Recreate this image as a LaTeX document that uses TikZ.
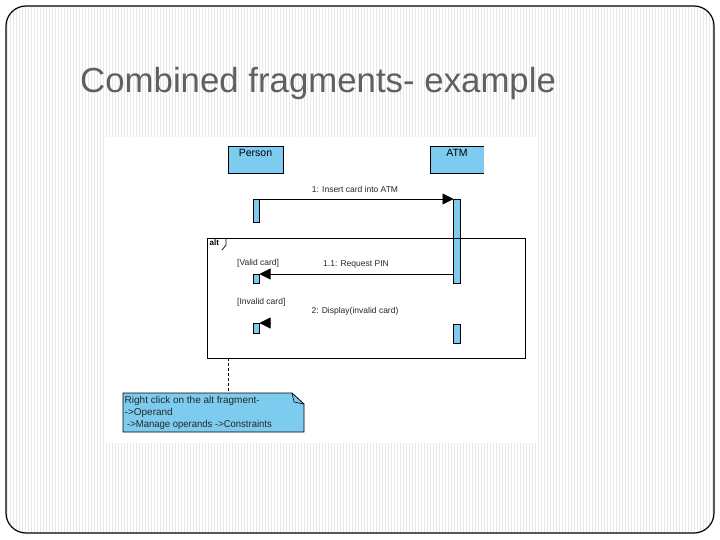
\documentclass[tikz,border=0pt]{standalone}
\usepackage{fontspec}
\setmainfont{Liberation Sans}
\usetikzlibrary{arrows.meta}
\definecolor{umlblue}{RGB}{125,204,240}
\definecolor{titlegray}{RGB}{96,96,96}
\definecolor{stripe}{RGB}{232,232,232}
\tikzset{
  lifebox/.style={draw=black, line width=0.8pt, fill=umlblue, inner sep=0pt, outer sep=0pt,
    minimum width=55pt, minimum height=27pt, anchor=north west},
  actbar/.style={draw=black, line width=0.6pt, fill=umlblue, inner sep=0pt, outer sep=0pt,
    minimum width=6.5pt, anchor=north west},
  msg/.style={draw=black, line width=0.8pt, -{Triangle[length=11pt,width=11pt]}},
  msglabel/.style={font=\fontsize{8.5}{10}\selectfont, inner sep=0pt, text=black!85},
  guard/.style={font=\fontsize{8.5}{10}\selectfont, inner sep=0pt, anchor=west, text=black!85},
  notetext/.style={font=\fontsize{10}{11}\selectfont, inner sep=0pt, anchor=west, text=black!85},
}
\begin{document}
\begin{tikzpicture}[x=1pt,y=-1pt]
\useasboundingbox (0,0) rectangle (720,540);
% slide background with stripes
\begin{scope}
  \clip[rounded corners=20pt] (6,6) rectangle (714,533);
  \fill[white] (0,0) rectangle (720,540);
  \foreach \x in {7,10,...,714} {
    \draw[stripe, line width=0.5pt] (\x,0) -- (\x,540);
  }
\end{scope}
\draw[black, line width=1.2pt, rounded corners=20pt] (6,6) rectangle (714,533);
% title
\node[anchor=base west, inner sep=0pt, text=titlegray, font=\fontsize{34.8}{40}\selectfont]
  (title) at (80,93) {Combined fragments- example};
% diagram image area
\fill[white] (105,137) rectangle (538,443);
% lifeline heads
\node[lifebox] (person) at (228,146) {};
\node[anchor=north, inner sep=0pt, font=\fontsize{10.5}{12}\selectfont] (personlbl) at ([yshift=-3pt]person.north) {Person};
\fill[umlblue] (430,146) rectangle (484,173);
\draw[black, line width=0.8pt] (484,146) -- (430,146) -- (430,173) -- (484,173);
\node[inner sep=0pt, outer sep=0pt, minimum width=54pt, minimum height=27pt, anchor=north west] (atm) at (430,146) {};
\node[anchor=north, inner sep=0pt, font=\fontsize{10.5}{12}\selectfont] (atmlbl) at ([yshift=-3pt]atm.north) {ATM};
% activation bars
\node[actbar, minimum height=23pt] (pb1) at (253,199) {};
\node[actbar, minimum height=84pt] (ab1) at (453.5,199) {};
\node[actbar, minimum height=9pt] (pb2) at (253,274) {};
\node[actbar, minimum height=10pt] (pb3) at (253,323) {};
\node[actbar, minimum height=19pt] (ab2) at (453.5,324) {};
% message 1
\draw[msg] (pb1.north east) -- (ab1.north west);
\node[msglabel] (m1) at (355,189) {1: Insert card into ATM};
% alt fragment
\node[draw=black, line width=0.9pt, inner sep=0pt, outer sep=0pt, minimum width=318pt, minimum height=120pt, anchor=north west] (alt) at (207,238) {};
\node[anchor=north west, inner sep=0pt, font=\bfseries\fontsize{8}{9}\selectfont] (altlbl) at (209.5,239.5) {alt};
\draw[black, line width=0.7pt] (226,238) -- (226,245) -- (222,250);
\node[guard] (g1) at (237,263) {[Valid card]};
\node[guard] (g2) at (237,302) {[Invalid card]};
% message 1.1
\draw[msg] (ab1.west |- pb2.north east) -- (pb2.north east);
\node[msglabel] (m11) at (356,264) {1.1: Request PIN};
% message 2
\coordinate (m2start) at (270.5,323);
\draw[msg] (m2start) -- (pb3.north east);
\node[msglabel] (m2) at (355,311) {2: Display(invalid card)};
% note
\draw[fill=umlblue, line width=0.8pt] (123,393) -- (292,393) -- (304,404) -- (304,432) -- (123,432) -- cycle;
\draw[line width=0.6pt] (292,393) -- (294,402) -- (304,404);
\node[inner sep=0pt, outer sep=0pt, minimum width=181pt, minimum height=39pt, anchor=north west] (note) at (123,393) {};
\draw[dashed, line width=0.7pt, dash pattern=on 3pt off 2pt] (alt.south west -| 228.5,0) -- (note.north west -| 228.5,0);
\node[notetext] (n1) at (124.5,401) {Right click on the alt fragment-};
\node[notetext] (n2) at (124.5,413) {->Operand};
\node[notetext] (n3) at (127,425) {\scalebox{0.95}[1]{->Manage operands ->Constraints}};
\end{tikzpicture}
\end{document}
